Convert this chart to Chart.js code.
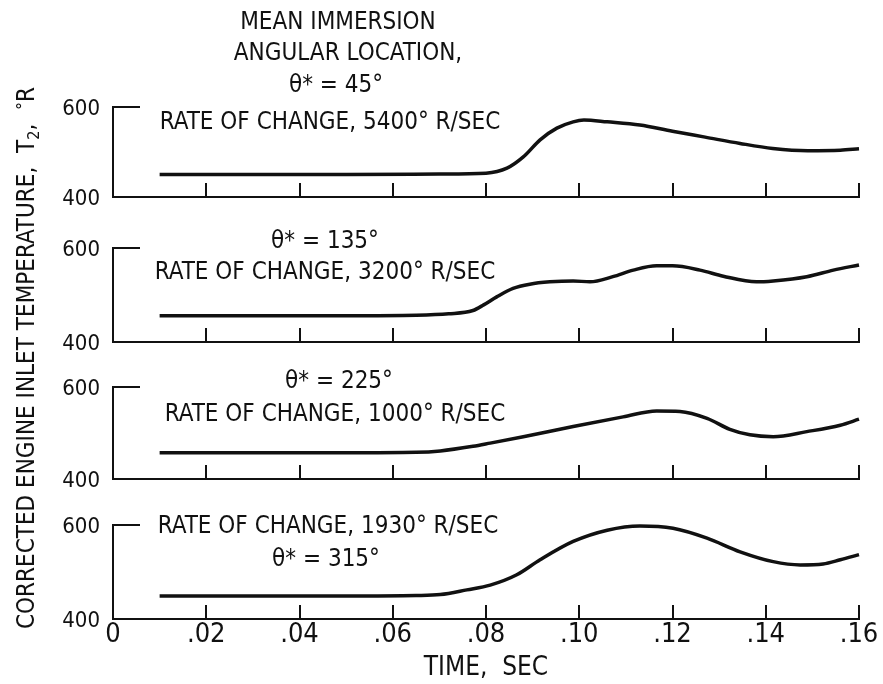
<!DOCTYPE html>
<html>
<head>
<meta charset="utf-8">
<script src="https://cdn.jsdelivr.net/npm/chart.js@4.4.1/dist/chart.umd.min.js"></script>
<style>
  html, body { margin: 0; padding: 0; background: #fff; }
  #wrap { position: relative; width: 883px; height: 684px; }
  #wrap canvas { position: absolute; left: 0; top: 0; }
</style>
</head>
<body>
<div id="wrap">
  <canvas id="p0" width="883" height="684"></canvas>
  <canvas id="p1" width="883" height="684"></canvas>
  <canvas id="p2" width="883" height="684"></canvas>
  <canvas id="p3" width="883" height="684"></canvas>
</div>
<script>
// Corrected engine inlet temperature vs time, four immersion angles
(function () {
'use strict';

// ---- data ----
const time45  = [0.01, 0.03, 0.05, 0.07, 0.08, 0.0845, 0.088, 0.0916, 0.0952, 0.0987, 0.101, 0.106, 0.113, 0.120, 0.127, 0.1345, 0.1415, 0.149, 0.156, 0.16];
const temp45  = [450, 450, 450, 451, 453, 464, 489, 527, 553, 567, 571, 567, 560, 546, 533, 519, 508, 503, 504, 507];

const time135 = [0.01, 0.03, 0.05, 0.065, 0.072, 0.0772, 0.0795, 0.0823, 0.0858, 0.0894, 0.0937, 0.0987, 0.1023, 0.1072, 0.1116, 0.1166, 0.120, 0.1259, 0.1309, 0.138, 0.1416, 0.1488, 0.1545, 0.16];
const temp135 = [456, 456, 456, 457, 460, 467, 479, 496, 514, 523, 528, 530, 528, 539, 553, 562, 562, 553, 540, 528, 530, 539, 553, 564];

const time225 = [0.01, 0.03, 0.05, 0.065, 0.0702, 0.0772, 0.0809, 0.088, 0.0987, 0.1094, 0.1166, 0.1216, 0.1274, 0.1323, 0.1366, 0.1416, 0.1488, 0.156, 0.16];
const temp225 = [457, 457, 457, 458, 461, 471, 478, 492, 514, 535, 548, 547, 532, 508, 496, 492, 503, 517, 530];

const time315 = [0.01, 0.03, 0.05, 0.065, 0.0702, 0.0759, 0.0809, 0.0866, 0.0916, 0.0987, 0.106, 0.113, 0.1201, 0.1274, 0.1345, 0.1416, 0.1474, 0.1523, 0.156, 0.16];
const temp315 = [449, 449, 449, 450, 452, 462, 472, 494, 526, 565, 589, 598, 593, 572, 543, 522, 515, 517, 526, 537];

const xTicks = [0, 0.02, 0.04, 0.06, 0.08, 0.10, 0.12, 0.14, 0.16];
const xTickLabels = ['0', '.02', '.04', '.06', '.08', '.10', '.12', '.14', '.16'];
const yTicks = [400, 600];
const xTitle = 'TIME,  SEC';

const notes45  = ['MEAN IMMERSION', 'ANGULAR LOCATION,', 'θ* = 45°', 'RATE OF CHANGE, 5400° R/SEC'];
const notes135 = ['θ* = 135°', 'RATE OF CHANGE, 3200° R/SEC'];
const notes225 = ['θ* = 225°', 'RATE OF CHANGE, 1000° R/SEC'];
const notes315 = ['RATE OF CHANGE, 1930° R/SEC', 'θ* = 315°'];

const times = [time45, time135, time225, time315];
const temps = [temp45, temp135, temp225, temp315];
const notes = [notes45, notes135, notes225, notes315];

// ---- layout (page pixels) ----
const FONT = '"Liberation Sans Narrow", "DejaVu Sans Condensed", "Arial Narrow", sans-serif';
const INK = '#111';
const W = 883, H = 684;
const areaTop = [107, 248, 387, 525];
const areaBottom = [197, 342, 479, 619];
const xAxisH = 65;
const noteAt = [
    [[338, 23], [348, 54], [336, 86], [330, 123]],
    [[325, 242], [325, 273]],
    [[339, 382], [335, 415]],
    [[328, 527], [326, 560]]
];

// inward tick marks, the short 600 stub, and the panel notes
const panelMarks = {
    id: 'panelMarks',
    afterDatasetsDraw(chart, args, opts) {
        const { ctx, chartArea: a, scales: { x, y } } = chart;
        const i = opts.panel;
        ctx.save();
        ctx.strokeStyle = INK;
        ctx.lineWidth = 2;
        ctx.beginPath();
        xTicks.slice(1).forEach(v => {
            const px = Math.round(x.getPixelForValue(v));
            ctx.moveTo(px, a.bottom);
            ctx.lineTo(px, a.bottom - 14);
        });
        const py = y.getPixelForValue(yTicks[1]);
        ctx.moveTo(a.left, py);
        ctx.lineTo(a.left + 27, py);
        ctx.stroke();

        ctx.fillStyle = INK;
        ctx.font = '24px ' + FONT;
        ctx.textAlign = 'center';
        ctx.textBaseline = 'middle';
        notes[i].forEach((s, k) => ctx.fillText(s, noteAt[i][k][0], noteAt[i][k][1]));
        ctx.restore();
    }
};

// rotated y title with subscript 2
const yTitle = {
    id: 'yTitle',
    afterDraw(chart) {
        const ctx = chart.ctx;
        const parts = [
            ['CORRECTED ENGINE INLET TEMPERATURE,  T', 24, 0],
            ['2', 16, 7],
            [',  ', 24, 0],
            ['°', 18, -4],
            ['R', 24, 0]
        ];
        ctx.save();
        ctx.translate(28, 358);
        ctx.rotate(-Math.PI / 2);
        ctx.fillStyle = INK;
        ctx.textBaseline = 'middle';
        ctx.textAlign = 'left';
        let total = 0;
        parts.forEach(p => { ctx.font = p[1] + 'px ' + FONT; total += ctx.measureText(p[0]).width; });
        let cx = -total / 2;
        parts.forEach(p => {
            ctx.font = p[1] + 'px ' + FONT;
            ctx.fillText(p[0], cx, p[2]);
            cx += ctx.measureText(p[0]).width;
        });
        ctx.restore();
    }
};

function makePanel(i) {
    const last = i === 3;
    return new Chart(document.getElementById('p' + i), {
        type: 'line',
        data: {
            datasets: [{
                data: times[i].map((t, k) => ({ x: t, y: temps[i][k] })),
                borderColor: INK,
                borderWidth: 3.5,
                pointRadius: 0,
                cubicInterpolationMode: 'monotone',
                fill: false,
                clip: false
            }]
        },
        options: {
            responsive: false,
            animation: false,
            events: [],
            layout: { padding: { left: 0, right: W - 859, top: areaTop[i], bottom: H - areaBottom[i] - (last ? xAxisH : 0) } },
            plugins: { legend: { display: false }, tooltip: { enabled: false }, panelMarks: { panel: i } },
            scales: {
                x: {
                    type: 'linear', min: 0, max: 0.16,
                    afterBuildTicks: s => { s.ticks = xTicks.map(v => ({ value: v })); },
                    afterFit: s => { s.height = last ? xAxisH : 0; },
                    grid: { display: false, drawTicks: false },
                    border: { color: INK, width: 2 },
                    ticks: {
                        display: last, padding: 0, color: INK, maxRotation: 0, autoSkip: false,
                        font: { family: FONT, size: 27 },
                        callback: (v, k) => xTickLabels[k]
                    },
                    title: { display: last, text: xTitle, color: INK, padding: 0, font: { family: FONT, size: 26 } }
                },
                y: {
                    min: 400, max: 600,
                    afterBuildTicks: s => { s.ticks = yTicks.map(v => ({ value: v })); },
                    afterFit: s => { s.width = 113; },
                    grid: { display: false, drawTicks: false },
                    border: { color: INK, width: 2 },
                    ticks: { color: INK, padding: 13, labelOffset: 2, font: { family: FONT, size: 22 } }
                }
            }
        },
        plugins: last ? [panelMarks, yTitle] : [panelMarks]
    });
}

[0, 1, 2, 3].forEach(makePanel);
})();
</script>
</body>
</html>
